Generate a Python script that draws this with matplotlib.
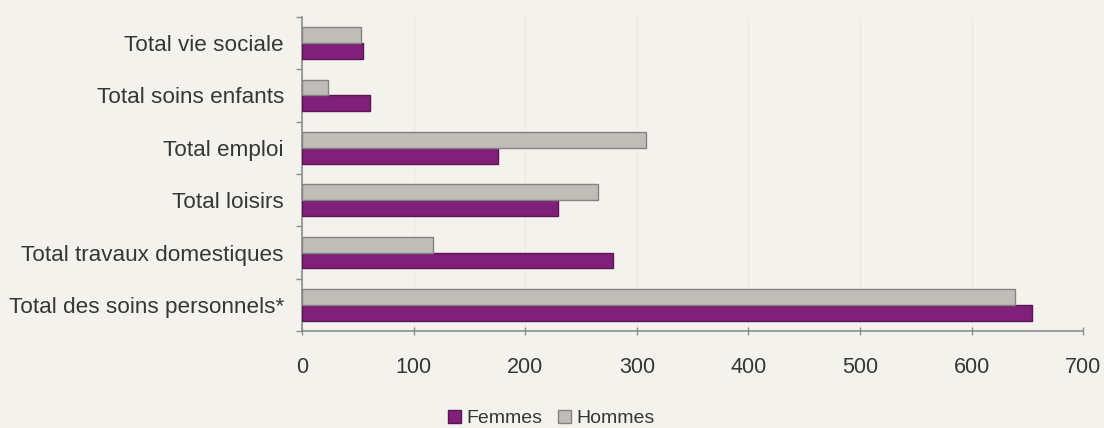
import numpy as np
import matplotlib
matplotlib.use("Agg")
import matplotlib.pyplot as plt
from matplotlib.ticker import FixedLocator

plt.rcParams['font.family'] = ['Liberation Sans', 'DejaVu Sans']

categories = [
    "Total des soins personnels*",
    "Total travaux domestiques",
    "Total loisirs",
    "Total emploi",
    "Total soins enfants",
    "Total vie sociale",
]
femmes = [654, 279, 229, 176, 61, 55]
hommes = [639, 117, 265, 308, 23, 53]
x_ticks = [0, 100, 200, 300, 400, 500, 600, 700]

bg = "#f4f2ec"
purple = "#80207a"
purple_edge = "#5c1458"
grey = "#c0bdb8"
grey_edge = "#858380"
text_col = "#363636"
axis_col = "#8c8c8c"

fig = plt.figure(figsize=(11.04, 4.28), dpi=100, facecolor=bg)
ax = fig.add_axes([0.2736, 0.2266, 0.7075, 0.7337], facecolor=bg)

y = np.arange(len(categories))
h = 0.30
ax.barh(y - h / 2, femmes, height=h, color=purple, edgecolor=purple_edge,
        linewidth=1.0, label="Femmes", zorder=3)
ax.barh(y + h / 2, hommes, height=h, color=grey, edgecolor=grey_edge,
        linewidth=1.0, label="Hommes", zorder=3)

ax.set_xlim(0, 700)
ax.set_ylim(-0.5, len(categories) - 0.5)

ax.set_yticks(y)
ax.set_yticklabels(categories, fontsize=16.2, color=text_col)
ax.yaxis.set_minor_locator(FixedLocator(np.arange(-0.5, len(categories), 1.0)))
ax.tick_params(axis='y', which='major', length=0, pad=13)
ax.tick_params(axis='y', which='minor', length=4, width=1, color=axis_col,
               direction='out')

ax.set_xticks(x_ticks)
ax.set_xticklabels([str(v) for v in x_ticks], fontsize=15.5, color=text_col)
ax.tick_params(axis='x', length=6, width=1, color=axis_col, direction='inout',
               pad=16)

ax.xaxis.grid(True, color="#ebe9e3", linewidth=0.8, zorder=0)
ax.set_axisbelow(True)

for side in ("top", "right"):
    ax.spines[side].set_visible(False)
for side in ("left", "bottom"):
    ax.spines[side].set_color(axis_col)
    ax.spines[side].set_linewidth(1.2)

leg = fig.legend(loc="center", bbox_to_anchor=(0.499, 0.022), ncol=2,
                 frameon=False, fontsize=14, handlelength=0.7,
                 handleheight=0.7, handletextpad=0.25, columnspacing=0.8,
                 labelcolor=text_col)

fig.savefig("out.png", dpi=100, facecolor=bg)
